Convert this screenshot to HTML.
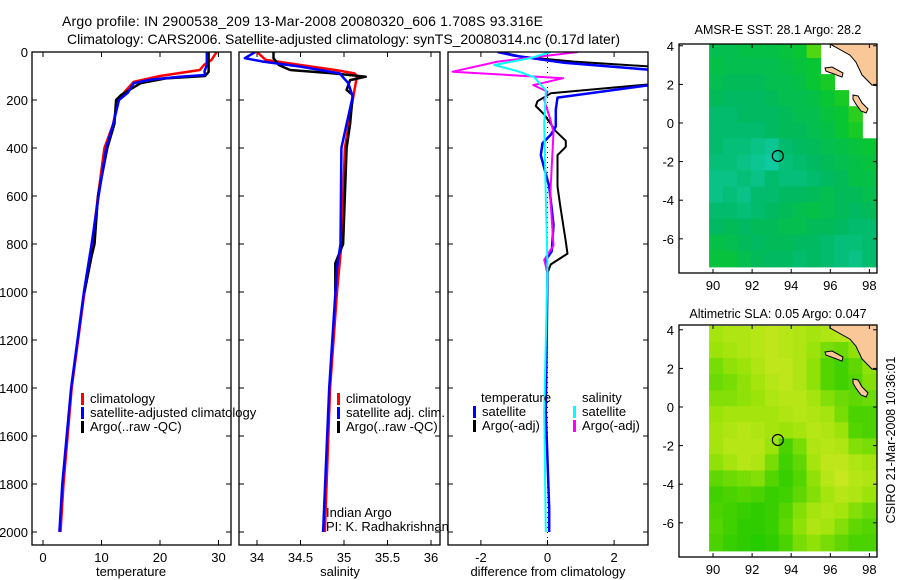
<!DOCTYPE html>
<html><head><meta charset="utf-8"><style>
body{margin:0;background:#fff;}
svg{display:block;font-family:"Liberation Sans",sans-serif;}
</style></head><body>
<svg id="fig" width="900" height="580" xmlns="http://www.w3.org/2000/svg">
<defs>
<clipPath id="c1"><rect x="32" y="52" width="199" height="493"/></clipPath>
<clipPath id="c2"><rect x="239" y="52" width="201" height="493"/></clipPath>
<clipPath id="c3"><rect x="448" y="52" width="200" height="493"/></clipPath>
<clipPath id="m1"><rect x="679" y="44" width="198" height="229"/></clipPath>
<clipPath id="m2"><rect x="679" y="325" width="198" height="232"/></clipPath>
</defs>
<text x="62" y="26" font-size="14" textLength="481">Argo profile: IN 2900538_209 13-Mar-2008 20080320_606 1.708S 93.316E</text>
<text x="67" y="44" font-size="14" textLength="553">Climatology: CARS2006. Satellite-adjusted climatology: synTS_20080314.nc (0.17d later)</text>
<text x="778" y="34" font-size="12.5" text-anchor="middle">AMSR-E SST: 28.1 Argo: 28.2</text>
<text x="778" y="318" font-size="12.5" text-anchor="middle">Altimetric SLA: 0.05 Argo: 0.047</text>
<text x="0" y="0" font-size="12.5" text-anchor="middle" transform="translate(895,440) rotate(-90)">CSIRO 21-Mar-2008 10:36:01</text>
<g id="g"></g>
</svg>
<script>
// ---------- data ----------
const depthTicks=[0,200,400,600,800,1000,1200,1400,1600,1800,2000];
const tempTicks=[0,10,20,30];
const salTicks=[34,34.5,35,35.5,36];
const diffTicks=[-2,0,2];
const lonTicks=[90,92,94,96,98];
const latTicks=[4,2,0,-2,-4,-6];

const tClimD=[0,33,54,75,100,124,171,200,300,400,600,800,1000,1400,1800,2000];
const tClimV=[29.7,28.8,27.5,26.8,20,15.5,13.8,12.8,12,10.5,9.4,8.4,7.1,4.9,3.5,3.0];
const tSatD=[0,54,80,96,103,115,130,170,200,300,400,600,800,1000,1400,1800,2000];
const tSatV=[28,28,27.6,27.7,23.4,18.4,15.5,14.5,13,12,10.8,9.5,8.3,7.0,4.8,3.3,2.8];
const tArgoD=[0,83,100,110,130,150,180,200,300,400,600,800,850,1000];
const tArgoV=[28.3,28.3,27.7,21,16.7,15.3,13.3,12.5,12.2,11,9.4,8.8,8.3,7.1];

const sClimD=[0,33,54,75,89,100,200,400,800,1000,1400,1800,2000];
const sClimV=[34.0,34.1,34.5,34.9,35.12,35.15,35.1,35.01,34.97,34.92,34.84,34.8,34.78];
const sSatD=[0,26,40,61,89,130,186,300,400,800,900,1400,2000];
const sSatV=[33.98,33.86,34.07,34.5,34.95,35.05,35.1,35.03,34.97,34.96,34.92,34.83,34.76];
const sArgoD=[0,26,54,75,89,103,117,158,179,300,400,800,880,1000];
const sArgoV=[34.19,34.19,34.25,34.38,34.88,35.25,35.07,35.03,35.1,35.07,35.03,34.99,34.9,34.9];

const dTSatD=[0,15,45,80,128,190,240,310,345,380,430,560,720,830,870,920,1500,1900,2000];
const dTSatV=[-1.5,-1.0,0.5,3.6,3.6,0.3,0.25,0.25,0.1,-0.15,-0.2,0.05,0.18,0.13,-0.07,0,-0.05,0.05,0.05];
const dTArgoD=[0,19,40,65,128,172,205,225,260,330,370,395,430,560,640,790,840,885,920];
const dTArgoV=[-1.4,-0.8,0.8,3.6,3.6,0.1,-0.3,-0.35,-0.1,0.25,0.55,0.55,0.3,0.3,0.38,0.55,0.6,0.1,0];
const dSSatD=[0,25,54,80,105,160,300,600,900,1500,2000];
const dSSatV=[0.1,-0.5,-1.6,-0.9,-0.4,-0.05,-0.1,-0.05,0,-0.1,-0.05];
const dSArgoD=[0,40,82,109,138,165,200,280,335,473,600,806,866,920];
const dSArgoV=[0.92,-1.5,-2.85,0.47,-0.43,0,-0.1,0.08,0.18,0.13,0.08,0.18,-0.1,0];

const sstGrid=[
[.45,.45,.5,.5,.5,.55,.6,.85,null,null,null,null],
[.5,.45,.45,.45,.45,.5,.55,.6,null,null,null,null],
[.45,.4,.4,.4,.45,.45,.5,.6,.7,null,null,null],
[.4,.35,.35,.35,.4,.45,.45,.5,.6,.7,null,null],
[.3,.3,.35,.35,.35,.4,.45,.45,.55,.6,.75,null],
[.3,.3,.3,.3,.35,.4,.4,.45,.5,.6,.7,null],
[.3,.25,.25,.2,.15,.3,.35,.4,.45,.5,.55,.6],
[.25,.25,.2,.15,.1,.25,.3,.35,.4,.45,.5,.55],
[.2,.2,.25,.2,.3,.25,.25,.3,.35,.4,.5,.5],
[.2,.25,.2,.3,.3,.35,.35,.4,.45,.4,.4,.45],
[.3,.3,.25,.3,.35,.4,.45,.5,.45,.4,.35,.4],
[.35,.4,.35,.4,.4,.45,.45,.4,.4,.35,.3,.3],
[.5,.45,.4,.35,.4,.4,.35,.35,.3,.25,.25,.3],
[.55,.55,.45,.4,.35,.35,.3,.35,.3,.25,.2,.3]];
const slaGrid=[
[.7,.75,.75,.8,.85,.8,.75,.7,.75,.8,.8,.8],
[.65,.7,.75,.8,.85,.8,.75,.65,.5,.45,.6,.7],
[.5,.6,.65,.75,.85,.85,.75,.6,.35,.25,.4,.6],
[.45,.5,.6,.7,.8,.85,.75,.6,.35,.25,.35,.55],
[.55,.55,.6,.65,.75,.8,.8,.7,.55,.45,.4,.45],
[.65,.7,.7,.7,.7,.75,.8,.75,.7,.5,.3,.3],
[.7,.75,.8,.75,.7,.65,.7,.8,.75,.65,.35,.3],
[.7,.8,.8,.8,.65,.3,.5,.75,.8,.75,.55,.5],
[.6,.7,.8,.75,.5,.25,.4,.7,.85,.85,.75,.7],
[.4,.45,.5,.55,.35,.2,.35,.6,.8,.9,.8,.75],
[.25,.3,.35,.3,.2,.25,.4,.55,.7,.8,.75,.65],
[.3,.25,.2,.15,.2,.35,.55,.7,.75,.7,.55,.45],
[.35,.25,.15,.15,.2,.4,.6,.75,.7,.55,.4,.35],
[.3,.2,.15,.1,.15,.3,.5,.6,.5,.4,.3,.3]];
const floatLon=93.316, floatLat=-1.708;
const landLon=[95.98,97.0,97.31,97.62,98.13,98.44,98.44,95.98];
const landLat=[4.1,3.52,3.16,2.49,1.97,1.92,4.4,4.4];
const isl1Lon=[95.73,96.09,96.65,96.6,96.19,95.78];
const isl1Lat=[2.85,2.9,2.59,2.38,2.54,2.69];
const isl2Lon=[97.16,97.42,97.62,97.93,97.83,97.57,97.31,97.16];
const isl2Lat=[1.45,1.4,1.04,0.73,0.52,0.62,0.98,1.24];

// ---------- helpers ----------
const NS="http://www.w3.org/2000/svg";
const G=document.getElementById('g');
function mk(tag,attrs,parent){const e=document.createElementNS(NS,tag);for(const k in attrs)e.setAttribute(k,attrs[k]);(parent||G).appendChild(e);return e;}
const yD=d=>52+d*0.24;
const xT=v=>43+v*5.85;
const xS=v=>257+(v-34)*87;
const xDf=v=>547.5+v*33.3;
const mx=lon=>713+(lon-90)*19.55;
const my1=lat=>123-lat*19.3;
const my2=lat=>407-lat*19.3;

function frame(x0,x1,y0,y1,name){
  const r=mk('rect',{x:x0,y:y0,width:x1-x0,height:y1-y0,fill:'none',stroke:'#000','stroke-width':1.3});
  
  
}
function line(D,V,xf,color,clip,name,w){
  const p=mk('polyline',{points:D.map((d,i)=>xf(V[i]).toFixed(1)+','+yD(d).toFixed(1)).join(' '),fill:'none',stroke:color,'stroke-width':w||2.5,'clip-path':'url(#'+clip+')','stroke-linejoin':'round'});
  
  
}
function txt(x,y,s,anchor,name,size){
  const t=mk('text',{x:x,y:y,'font-size':size||13,'text-anchor':anchor||'start'});
  t.textContent=s;
  
  
  return t;
}
function xTicks(ticks,xf,x0,x1,y0,y1,name,fmt){
  ticks.forEach(v=>{const x=xf(v);
    mk('line',{x1:x,x2:x,y1:y1,y2:y1-5,stroke:'#000'});
    mk('line',{x1:x,x2:x,y1:y0,y2:y0+5,stroke:'#000'});
    txt(x,y1+17,fmt?fmt(v):String(v),'middle',name);
  });
}
function yTicks(ticks,yf,x0,x1,labels,name){
  ticks.forEach(v=>{const y=yf(v);
    mk('line',{x1:x0,x2:x0+5,y1:y,y2:y,stroke:'#000'});
    mk('line',{x1:x1,x2:x1-5,y1:y,y2:y,stroke:'#000'});
    if(labels) txt(x0-4,y+5,String(v),'end',name);
  });
}
function legend(x,y,color,label,name){
  const r=mk('rect',{x:x,y:y-10,width:3,height:12,fill:color});
  
  
  txt(x+9,y,label,'start',name,13);
}

// ---------- panel 1: temperature ----------
yTicks(depthTicks,yD,32,231,true,'depth-tick-label');
xTicks(tempTicks,xT,32,231,52,545,'temperature-tick-label');
line(tClimD,tClimV,xT,'#f00','c1','temp-climatology-line');
line(tArgoD,tArgoV,xT,'#000','c1','temp-argo-line');
line(tSatD,tSatV,xT,'#00f','c1','temp-satellite-line');
frame(32,231,52,545,'temperature-axes');
txt(131,576,'temperature','middle','temperature-axis-title');
legend(81,403,'#f00','climatology','legend-climatology');
legend(81,417,'#00f','satellite-adjusted climatology','legend-satellite-adjusted');
legend(81,431,'#000','Argo(..raw -QC)','legend-argo-raw');

// ---------- panel 2: salinity ----------
yTicks(depthTicks,yD,239,440,false,'');
xTicks(salTicks,xS,239,440,52,545,'salinity-tick-label');
line(sClimD,sClimV,xS,'#f00','c2','sal-climatology-line');
line(sArgoD,sArgoV,xS,'#000','c2','sal-argo-line');
line(sSatD,sSatV,xS,'#00f','c2','sal-satellite-line');
frame(239,440,52,545,'salinity-axes');
txt(340,576,'salinity','middle','salinity-axis-title');
legend(337,403,'#f00','climatology','legend-sal-climatology');
legend(337,417,'#00f','satellite adj. clim.','legend-sal-satellite');
legend(337,431,'#000','Argo(..raw -QC)','legend-sal-argo');
txt(326,517,'Indian Argo','start','institution-label');
txt(326,531,'PI: K. Radhakrishnan','start','pi-label');

// ---------- panel 3: differences ----------
yTicks(depthTicks,yD,448,648,false,'');
xTicks(diffTicks,xDf,448,648,52,545,'difference-tick-label');
const zl=mk('line',{x1:xDf(0),x2:xDf(0),y1:52,y2:545,stroke:'#000','stroke-dasharray':'1,4'});


line(dTArgoD,dTArgoV,xDf,'#000','c3','diff-temp-argo-line',2);
line(dTSatD,dTSatV,xDf,'#00f','c3','diff-temp-satellite-line',2.5);
line(dSArgoD,dSArgoV,xDf,'#f0f','c3','diff-sal-argo-line',2);
line(dSSatD,dSSatV,xDf,'#0ff','c3','diff-sal-satellite-line',2);
frame(448,648,52,545,'difference-axes');
txt(548,576,'difference from climatology','middle','difference-axis-title');
txt(481,402,'temperature','start','legend-temp-heading');
legend(473,416,'#00f','satellite','legend-diff-temp-satellite');
legend(473,430,'#000','Argo(-adj)','legend-diff-temp-argo');
txt(582,402,'salinity','start','legend-sal-heading');
legend(573,416,'#0ff','satellite','legend-diff-sal-satellite');
legend(573,430,'#f0f','Argo(-adj)','legend-diff-sal-argo');

// ---------- maps ----------
function lerp(a,b,t){return a.map((v,i)=>Math.round(v+(b[i]-v)*t));}
function cmap(stops,v){const n=stops.length-1;const p=Math.min(n-1e-9,Math.max(0,v*n));const i=Math.floor(p);const c=lerp(stops[i],stops[i+1],p-i);return 'rgb('+c.join(',')+')';}
const sstStops=[[20,210,185],[0,184,100],[10,200,40],[140,225,0]];
const slaStops=[[20,200,0],[80,212,0],[160,228,10],[215,232,40]];
function drawMap(grid,stops,my,clip,y0,y1,name){
  const lon0=89.8,lat0=4.2,dl=(98.35-89.8)/12,dh=(4.2+7.45)/14;
  grid.forEach((row,r)=>row.forEach((v,c)=>{
    if(v===null)return;
    const x=mx(lon0+c*dl),y=my(lat0-r*dh);
    const e=mk('rect',{x:x.toFixed(1),y:y.toFixed(1),width:(dl*19.55+0.6).toFixed(1),height:(dh*19.3+0.6).toFixed(1),fill:cmap(stops,v),'clip-path':'url(#'+clip+')'});
    
    
  }));
  const poly=(LO,LA,nm)=>{const p=mk('polygon',{points:LO.map((l,i)=>mx(l).toFixed(1)+','+my(LA[i]).toFixed(1)).join(' '),fill:'#fac898',stroke:'#000','stroke-width':1,'clip-path':'url(#'+clip+')'});
    
    };
  poly(landLon,landLat,name+'-land-sumatra');
  poly(isl1Lon,isl1Lat,name+'-island-simeulue');
  poly(isl2Lon,isl2Lat,name+'-island-nias');
  const c=mk('circle',{cx:mx(floatLon),cy:my(floatLat),r:5.5,fill:'none',stroke:'#000','stroke-width':1.2});
  
  
  lonTicks.forEach(l=>{const x=mx(l);mk('line',{x1:x,x2:x,y1:y1,y2:y1-4,stroke:'#000'});mk('line',{x1:x,x2:x,y1:y0,y2:y0+4,stroke:'#000'});txt(x,y1+17,String(l),'middle',name+'-lon-label');});
  latTicks.forEach(l=>{const y=my(l);mk('line',{x1:679,x2:683,y1:y,y2:y,stroke:'#000'});mk('line',{x1:877,x2:873,y1:y,y2:y,stroke:'#000'});txt(674,y+5,String(l),'end',name+'-lat-label');});
  frame(679,877,y0,y1,name+'-axes');
}
drawMap(sstGrid,sstStops,my1,'m1',44,273,'sst-map');
drawMap(slaGrid,slaStops,my2,'m2',325,557,'sla-map');
</script>
</body></html>
